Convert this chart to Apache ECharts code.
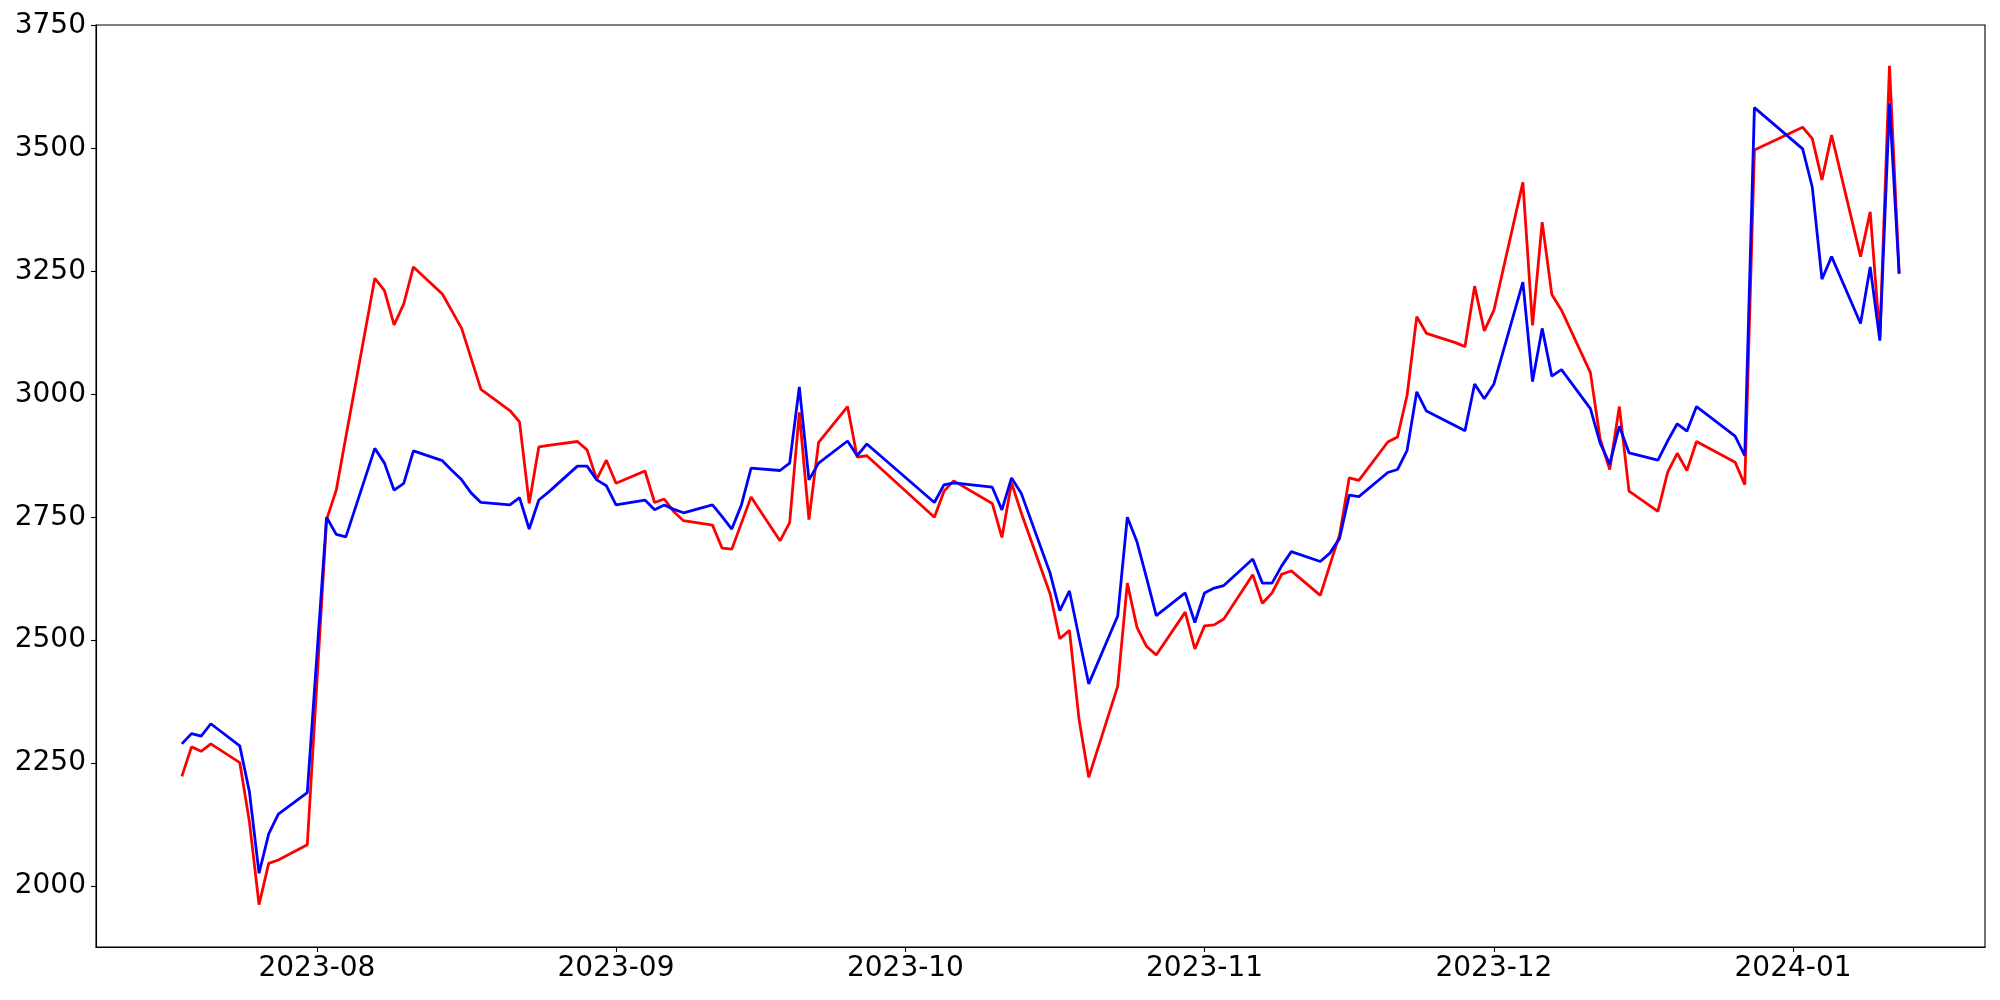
<!DOCTYPE html>
<html>
<head>
<meta charset="utf-8">
<script src="https://cdn.jsdelivr.net/npm/echarts@6/dist/echarts.min.js"></script>
<style>
html,body{margin:0;padding:0;background:#fff;}
#chart{width:2000px;height:1000px;}
</style>
</head>
<body>
<div id="chart"></div>
<script>
const dates = [
'2023-07-18','2023-07-19','2023-07-20','2023-07-21','2023-07-24','2023-07-25','2023-07-26','2023-07-27','2023-07-28','2023-07-31',
'2023-08-02','2023-08-03','2023-08-04','2023-08-07','2023-08-08','2023-08-09','2023-08-10','2023-08-11','2023-08-14','2023-08-15',
'2023-08-16','2023-08-17','2023-08-18','2023-08-21','2023-08-22','2023-08-23','2023-08-24','2023-08-25','2023-08-28','2023-08-29',
'2023-08-30','2023-08-31','2023-09-01','2023-09-04','2023-09-05','2023-09-06','2023-09-07','2023-09-08','2023-09-11','2023-09-12',
'2023-09-13','2023-09-14','2023-09-15','2023-09-18','2023-09-19','2023-09-20','2023-09-21','2023-09-22','2023-09-25','2023-09-26',
'2023-09-27','2023-10-04','2023-10-05','2023-10-06','2023-10-10','2023-10-11','2023-10-12','2023-10-13','2023-10-16','2023-10-17',
'2023-10-18','2023-10-19','2023-10-20','2023-10-23','2023-10-24','2023-10-25','2023-10-26','2023-10-27','2023-10-30','2023-10-31',
'2023-11-01','2023-11-02','2023-11-03','2023-11-06','2023-11-07','2023-11-08','2023-11-09','2023-11-10','2023-11-13','2023-11-14',
'2023-11-15','2023-11-16','2023-11-17','2023-11-20','2023-11-21','2023-11-22','2023-11-23','2023-11-24','2023-11-27','2023-11-28',
'2023-11-29','2023-11-30','2023-12-01','2023-12-04','2023-12-05','2023-12-06','2023-12-07','2023-12-08','2023-12-11','2023-12-12',
'2023-12-13','2023-12-14','2023-12-15','2023-12-18','2023-12-19','2023-12-20','2023-12-21','2023-12-22','2023-12-26','2023-12-27',
'2023-12-28','2024-01-02','2024-01-03','2024-01-04','2024-01-05','2024-01-08','2024-01-09','2024-01-10','2024-01-11','2024-01-12'
];

const redValues = [
2223,2283,2274,2289,2251,2131,1962,2046,2053,2084,
2745,2805,2913,3236,3211,3141,3184,3259,3204,3169,
3134,3072,3010,2967,2944,2778,2893,2896,2904,2887,
2827,2866,2819,2844,2780,2787,2761,2743,2734,2687,
2685,2738,2791,2702,2739,2963,2745,2902,2975,2872,
2875,2750,2803,2824,2778,2709,2820,2759,2594,2503,
2520,2338,2221,2406,2616,2526,2487,2470,2557,2482,
2529,2531,2543,2633,2575,2596,2634,2641,2591,2653,
2714,2830,2825,2903,2913,2998,3158,3124,3105,3097,
3220,3129,3171,3431,3140,3350,3203,3171,3044,2910,
2847,2975,2803,2762,2841,2880,2845,2904,2862,2816,
3497,3543,3520,3436,3527,3280,3371,3115,3668,3247
];

const blueValues = [
2289,2310,2305,2330,2285,2192,2026,2106,2146,2190,
2750,2715,2710,2890,2860,2805,2819,2885,2865,2845,
2826,2799,2780,2775,2790,2726,2785,2801,2854,2854,
2826,2814,2775,2785,2765,2775,2766,2759,2775,2751,
2726,2775,2850,2845,2860,3015,2826,2860,2905,2875,
2899,2780,2816,2820,2811,2765,2830,2799,2636,2560,
2600,2505,2411,2549,2750,2700,2626,2550,2596,2536,
2596,2606,2611,2665,2616,2616,2651,2680,2660,2677,
2707,2795,2792,2841,2847,2886,3005,2966,2936,2926,
3021,2991,3021,3228,3026,3134,3037,3050,2971,2901,
2858,2935,2881,2866,2905,2940,2925,2975,2915,2875,
3583,3499,3421,3234,3280,3144,3259,3109,3591,3245
];

const yTicks = [2000, 2250, 2500, 2750, 3000, 3250, 3500, 3750];
const monthTicks = ['2023-08-01','2023-09-01','2023-10-01','2023-11-01','2023-12-01','2024-01-01'];

function toTs(s) {
  const p = s.split('-').map(Number);
  return Date.UTC(p[0], p[1] - 1, p[2]);
}
function pad2(n) { return (n < 10 ? '0' : '') + n; }

const ts = dates.map(toTs);
const first = ts[0], last = ts[ts.length - 1];
const span = last - first;
const xMin = first - 0.05 * span;
const xMax = last + 0.05 * span;
const monthTs = monthTicks.map(toTs);

const FONT = 'DejaVu Sans';

const chart = echarts.init(document.getElementById('chart'), null, {renderer: 'canvas'});
chart.setOption({
  animation: false,
  backgroundColor: '#ffffff',
  grid: {
    left: 96, right: 15, top: 25, bottom: 53,
    show: true, borderColor: '#000000', borderWidth: 1.1, backgroundColor: 'transparent'
  },
  xAxis: {
    type: 'value',
    min: xMin,
    max: xMax,
    splitLine: {show: false},
    axisLine: {show: true, onZero: false, lineStyle: {color: '#000000', width: 1.1}},
    axisTick: {show: true, customValues: monthTs, length: 5, inside: false, lineStyle: {color: '#000000', width: 1.1}},
    minorTick: {show: false},
    axisLabel: {
      customValues: monthTs,
      color: '#000000',
      fontFamily: FONT,
      fontSize: 28,
      margin: 8,
      hideOverlap: false,
      formatter: function (v) {
        const d = new Date(v);
        return d.getUTCFullYear() + '-' + pad2(d.getUTCMonth() + 1);
      }
    }
  },
  yAxis: {
    type: 'value',
    min: 1876,
    max: 3751,
    splitLine: {show: false},
    axisLine: {show: true, onZero: false, lineStyle: {color: '#000000', width: 1.1}},
    axisTick: {show: true, customValues: yTicks, length: 5, inside: false, lineStyle: {color: '#000000', width: 1.1}},
    axisLabel: {
      customValues: yTicks,
      color: '#000000',
      fontFamily: FONT,
      fontSize: 28,
      margin: 10,
      hideOverlap: false,
      formatter: function (v) { return String(Math.round(v)); }
    }
  },
  series: [
    {
      name: 'red',
      type: 'line',
      data: ts.map((t, i) => [t, redValues[i]]),
      showSymbol: false,
      symbol: 'none',
      lineStyle: {color: '#ff0000', width: 2.8},
      itemStyle: {color: '#ff0000'},
      z: 2
    },
    {
      name: 'blue',
      type: 'line',
      data: ts.map((t, i) => [t, blueValues[i]]),
      showSymbol: false,
      symbol: 'none',
      lineStyle: {color: '#0000ff', width: 2.8},
      itemStyle: {color: '#0000ff'},
      z: 3
    }
  ]
});
</script>
</body>
</html>
